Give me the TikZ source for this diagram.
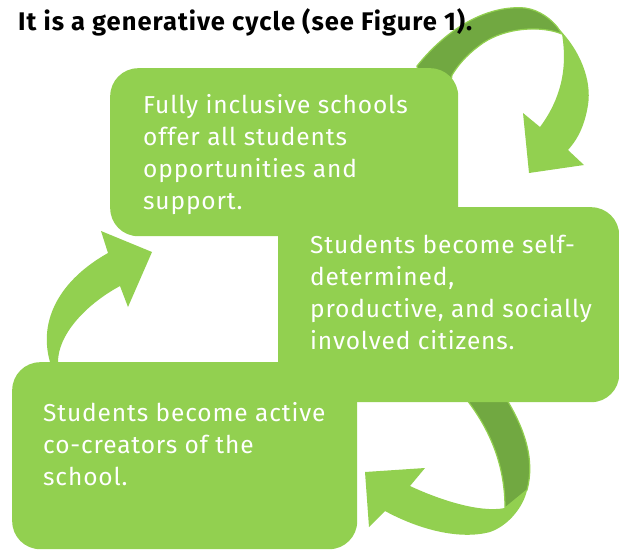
\documentclass[tikz,border=0pt]{standalone}
\usepackage{fontspec}
\setmainfont{Fira Sans}
\newfontfamily\boxff[LetterSpace=3.5]{Fira Sans}
\newfontfamily\titleff[LetterSpace=4]{Fira Sans}
\definecolor{gLight}{HTML}{92D050}
\definecolor{gDark}{HTML}{71A841}
\tikzset{
  box/.style={fill=gLight, rounded corners=28pt, inner sep=0pt, anchor=north west},
  boxtext/.style={anchor=base west, inner sep=0pt, text=white},
  ribbondark/.style={fill=gDark, draw=gLight, line width=1.2pt},
  ribbonlight/.style={fill=gLight},
}
\newcommand{\boxfont}{\boxff\fontsize{24.5}{32}\selectfont}
\begin{document}
\begin{tikzpicture}[x=1pt,y=-1pt]
\useasboundingbox (0,0) rectangle (619,550);
% arrow A (top right)
\path[ribbondark] (420,90) -- (417,66) .. controls (450,25) and (490,5) .. (525,8) .. controls (540,10) and (552,20) .. (558,28)
  -- (562,34) .. controls (540,25) and (505,28) .. (483,43) .. controls (470,52) and (460,62) .. (452,75) -- (450,90) -- cycle;
\path[ribbonlight] (558,28) .. controls (580,50) and (592,80) .. (588,105) .. controls (584,130) and (575,142) .. (568,150)
  -- (584,165) -- (529,173) -- (523,113) -- (540,127) .. controls (560,100) and (568,70) .. (562,34) -- cycle;
% arrow B (left)
\path[ribbonlight] (50,370) -- (50,362) .. controls (38,320) and (60,280) .. (108,253) -- (101,231) -- (152,252) -- (128,307) -- (120,286)
  .. controls (85,305) and (58,335) .. (58,362) -- (58,370) -- cycle;
% arrow C (bottom right)
\path[ribbondark] (467,390) -- (467,400) .. controls (490,430) and (505,465) .. (505,508) -- (527,490) .. controls (535,460) and (525,430) .. (507,400) -- (507,390) -- cycle;
\path[ribbonlight] (505,508) .. controls (480,513) and (440,500) .. (410,486) -- (425,468) -- (365,472) -- (369,527) -- (385,511)
  .. controls (420,530) and (460,540) .. (490,532) .. controls (510,525) and (524,505) .. (527,490) -- cycle;
% title
\node[anchor=base west, inner sep=0pt] (title) at (18,30) {\titleff\fontsize{25.5}{30}\selectfont\bfseries It is a generative cycle (see Figure 1).};
% boxes
\node[box, minimum width=348pt, minimum height=168pt] (b1) at (110,68) {};
\node[box, minimum width=341pt, minimum height=195pt] (b2) at (278,207) {};
\node[box, minimum width=345pt, minimum height=187pt] (b3) at (12,362) {};
% texts
\node[boxtext] (t1) at (143,113) {\parbox[t]{310pt}{\raggedright\boxfont Fully inclusive schools\\offer all students\\opportunities and\\support.}};
\node[boxtext] (t2) at (310,253) {\parbox[t]{305pt}{\raggedright\boxfont Students become self-\\determined,\\productive, and socially\\involved citizens.}};
\node[boxtext] (t3) at (43,421) {\parbox[t]{310pt}{\raggedright\boxfont Students become active\\co-creators of the\\school.}};
\end{tikzpicture}
\end{document}
